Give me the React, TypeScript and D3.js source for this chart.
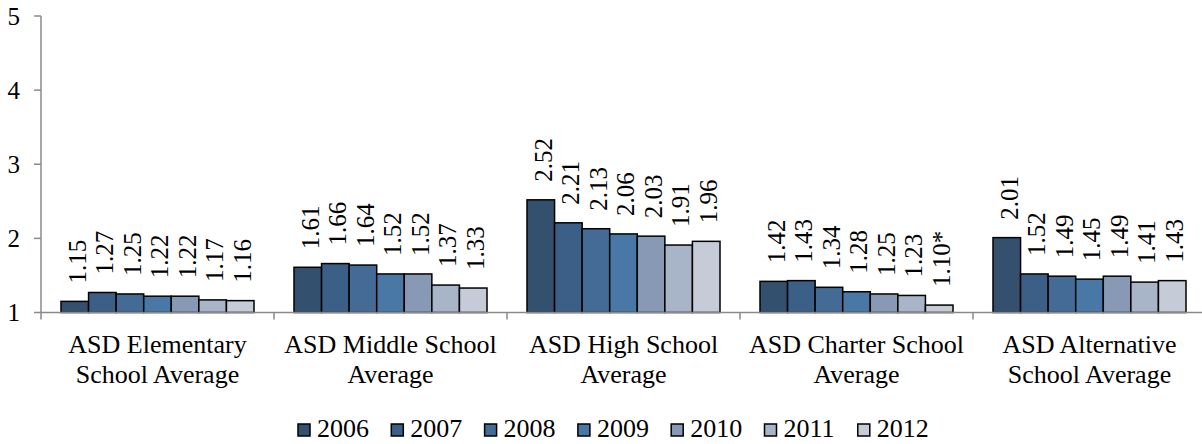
import React from "react";
import * as d3 from "d3";

const categories = [
  ["ASD Elementary", "School Average"],
  ["ASD Middle School", "Average"],
  ["ASD High School", "Average"],
  ["ASD Charter School", "Average"],
  ["ASD Alternative", "School Average"],
];
const years = ["2006", "2007", "2008", "2009", "2010", "2011", "2012"];
const values = [
  [1.15, 1.27, 1.25, 1.22, 1.22, 1.17, 1.16],
  [1.61, 1.66, 1.64, 1.52, 1.52, 1.37, 1.33],
  [2.52, 2.21, 2.13, 2.06, 2.03, 1.91, 1.96],
  [1.42, 1.43, 1.34, 1.28, 1.25, 1.23, 1.1],
  [2.01, 1.52, 1.49, 1.45, 1.49, 1.41, 1.43],
];
const labels = [
  ["1.15", "1.27", "1.25", "1.22", "1.22", "1.17", "1.16"],
  ["1.61", "1.66", "1.64", "1.52", "1.52", "1.37", "1.33"],
  ["2.52", "2.21", "2.13", "2.06", "2.03", "1.91", "1.96"],
  ["1.42", "1.43", "1.34", "1.28", "1.25", "1.23", "1.10*"],
  ["2.01", "1.52", "1.49", "1.45", "1.49", "1.41", "1.43"],
];
const yTicks = [1, 2, 3, 4, 5];
const colors = ["#34506f", "#3b5f86", "#436b95", "#4a78a6", "#8799b5", "#a8b5c8", "#c5ccd8"];

const W = 1202;
const H = 444;
const FONT = "'Liberation Serif', 'Times New Roman', serif";

export default function App() {
  const left = 41;
  const catIdx = categories.map((_, i) => String(i));
  const x = d3.scaleBand<string>().domain(catIdx).range([left, left + 233 * 5]).padding(0);
  const bw = x.bandwidth();
  const xi = d3.scaleBand<string>().domain(years).range([20, bw - 20]).padding(0);
  const y = d3.scaleLinear().domain([1, 5]).range([312.5, 16]);
  const axisColor = "#8a8a8a";
  const base = y(1);

  return (
    <svg width={W} height={H} style={{ position: "absolute", left: 0, top: 0, fontFamily: FONT }}>
      <rect width={W} height={H} fill="#fff" />
      {/* y axis */}
      <line x1={left} x2={left} y1={y(5)} y2={base + 7} stroke={axisColor} strokeWidth={1.5} />
      {yTicks.map((t) => (
        <g key={t}>
          <line x1={left - 7} x2={left} y1={y(t)} y2={y(t)} stroke={axisColor} strokeWidth={1.5} />
          <text x={20} y={y(t)} dy="0.35em" textAnchor="end" fontSize={25} fill="#000">
            {t}
          </text>
        </g>
      ))}
      {/* bars */}
      {values.map((row, ci) => (
        <g key={ci} transform={`translate(${x(String(ci))},0)`}>
          {row.map((v, yi) => {
            const bx = xi(years[yi])!;
            const top = y(v);
            return (
              <g key={yi}>
                <rect
                  x={bx}
                  y={top}
                  width={xi.bandwidth()}
                  height={base - top}
                  fill={colors[yi]}
                  stroke="#000"
                  strokeWidth={1.5}
                />
                <text
                  transform={`translate(${bx + xi.bandwidth() / 2 + 2},${top - 18}) rotate(-90)`}
                  dy="0.35em"
                  fontSize={25}
                  fill="#000"
                >
                  {labels[ci][yi]}
                </text>
              </g>
            );
          })}
        </g>
      ))}
      {/* x axis */}
      <line x1={left} x2={W} y1={base} y2={base} stroke={axisColor} strokeWidth={1.5} />
      {catIdx.map((c, i) => (
        <g key={c}>
          {i > 0 && (
            <line x1={x(c)!} x2={x(c)!} y1={base} y2={base + 7} stroke={axisColor} strokeWidth={1.5} />
          )}
          {categories[i].map((ln, li) => (
            <text
              key={li}
              x={x(c)! + bw / 2}
              y={353 + li * 30}
              textAnchor="middle"
              fontSize={26}
              fill="#000"
            >
              {ln}
            </text>
          ))}
        </g>
      ))}
      {/* legend */}
      {years.map((yr, i) => {
        const lx = 298 + i * 93.3;
        return (
          <g key={yr}>
            <rect x={lx} y={424} width={12} height={12} fill={colors[i]} stroke="#000" strokeWidth={1.5} />
            <text x={lx + 19} y={437} fontSize={26} fill="#000">
              {yr}
            </text>
          </g>
        );
      })}
    </svg>
  );
}
